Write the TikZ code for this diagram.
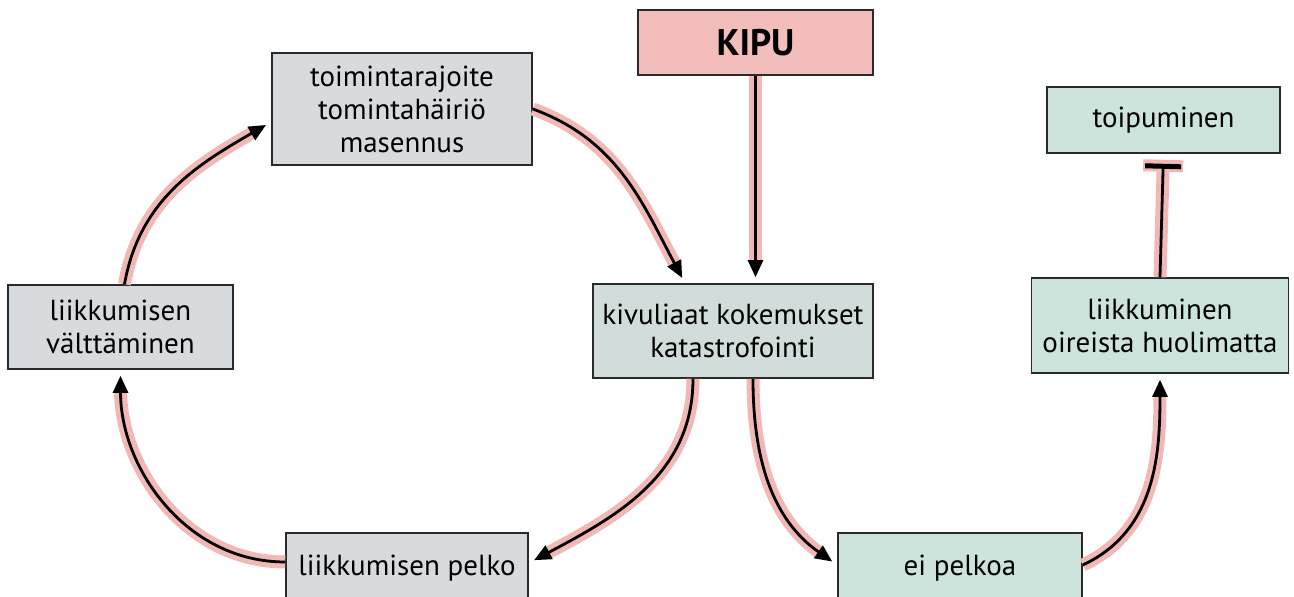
\documentclass[tikz,border=0pt]{standalone}
\usepackage{fontspec}
\setmainfont{PT Sans}
\usetikzlibrary{arrows.meta}
\definecolor{halo}{HTML}{F2B8B6}
\definecolor{kipufill}{HTML}{F2BDBA}
\definecolor{grayfill}{HTML}{D8DBDE}
\definecolor{kivfill}{HTML}{D1DDDA}
\definecolor{greenfill}{HTML}{CDE4DC}
\definecolor{boxline}{HTML}{2A2A2A}
\begin{document}
\begin{tikzpicture}[x=1pt,y=1pt,
    box/.style={draw=boxline, line width=1.6pt, align=center, inner sep=0pt,
      font=\fontsize{29}{33}\selectfont},
    link/.style={preaction={draw=halo, line width=13pt, -, shorten >=20pt},
      line width=2.8pt, -{Triangle[length=17pt,width=15pt]}, shorten >=6pt},
    stop/.style={preaction={draw=halo, line width=13pt, -{Rectangle[length=12pt,width=40pt,line width=0pt]}, shorten >=6pt},
      line width=2.8pt, -{Rectangle[length=5pt,width=36pt,line width=0pt]}, shorten >=10pt}]
  \useasboundingbox (0,0) rectangle (1294,597);
  \draw
    (755.5,554.5) node[box, fill=kipufill, minimum width=235pt, minimum height=65pt,
      font=\fontsize{37}{37}\selectfont\bfseries] (kipu){KIPU}
    (402,488) node[box, fill=grayfill, minimum width=260pt, minimum height=112pt] (tr){toimintarajoite\\tomintahäiriö\\masennus}
    (120.5,270) node[box, fill=grayfill, minimum width=225pt, minimum height=84pt] (valt){liikkumisen\\välttäminen}
    (733,266) node[box, fill=kivfill, minimum width=280pt, minimum height=94pt] (kiv){kivuliaat kokemukset\\katastrofointi}
    (407,29) node[box, fill=grayfill, minimum width=242pt, minimum height=70pt] (pelko){liikkumisen pelko}
    (960,29) node[box, fill=greenfill, minimum width=244pt, minimum height=70pt] (eip){ei pelkoa}
    (1163.5,477) node[box, fill=greenfill, minimum width=233pt, minimum height=66pt] (toip){toipuminen}
    (1160,271.5) node[box, fill=greenfill, minimum width=257pt, minimum height=95pt] (liik){liikkuminen\\oireista huolimatta};
  % connectors
  \draw[link] (kipu.south) -- (kipu.south |- kiv.north);
  \draw[link] (tr.east) to[out=-20,in=118] ([xshift=-48pt]kiv.north);
  \draw[link] ([xshift=-40pt]kiv.south) to[out=-90,in=28] ([yshift=5pt]pelko.east);
  \draw[link] ([yshift=6pt]pelko.west) to[out=180,in=-90] (valt.south);
  \draw[link] ([xshift=4pt]valt.north) to[out=80,in=210] ([yshift=-13pt]tr.west);
  \draw[link] ([xshift=20pt]kiv.south) to[out=-90,in=145] ([yshift=3pt]eip.west);
  \draw[link] ([yshift=3pt]eip.east) to[out=25,in=-90] (liik.south);
  \draw[stop] (liik.north) -- (toip.south);
\end{tikzpicture}
\end{document}
